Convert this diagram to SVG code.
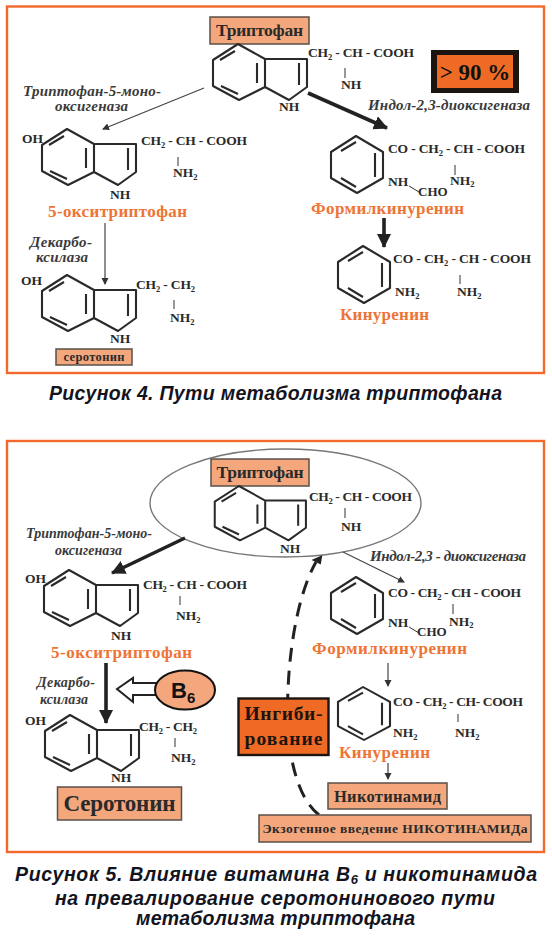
<svg xmlns="http://www.w3.org/2000/svg" xmlns:xlink="http://www.w3.org/1999/xlink" width="552" height="936" viewBox="0 0 552 936">
<style>
text{font-family:"Liberation Serif","Times New Roman",serif;font-weight:bold;fill:#2a2a2a}
.f{font-size:13.5px}
.s{font-size:8.5px}
.e{font-size:15px;font-style:italic;fill:#3a3a3a}
.o{font-size:17px;fill:#ee7435}
.c{font-family:"Liberation Sans",Arial,sans-serif;font-size:19.5px;font-style:italic;fill:#14141e}
.m{text-anchor:middle}
.frame{fill:#fff;stroke:#f2692b;stroke-width:2.4}
.box{fill:#f4a77c;stroke:#5a5048;stroke-width:1.5}
.bond{fill:none;stroke:#2a2a2a;stroke-width:2.1;stroke-linejoin:round}
.bar{stroke:#333;stroke-width:1}
.thin{stroke:#444;stroke-width:1.2;fill:none}
.thick{stroke:#222;stroke-width:3.6;fill:none}
</style>
<defs>
<marker id="ah" markerUnits="userSpaceOnUse" markerWidth="8" markerHeight="8" refX="6" refY="3.5" orient="auto"><path d="M0,0L7,3.5L0,7Z" fill="#333"/></marker>
<marker id="ahb" markerUnits="userSpaceOnUse" markerWidth="16" markerHeight="16" refX="13" refY="7" orient="auto"><path d="M0,0L14,7L0,14Z" fill="#222"/></marker>
<g id="indole" class="bond"><path d="M0,0L-25,16V42L1,56L27,43V15ZM27,15H69V43L51,56L27,43"/><path d="M-18,16L-3,7M-17,42L0,50M19,19V39M61,19V41"/></g>
<g id="benzene" class="bond"><path d="M0,0L-25,16V42L1,57L27,42V16Z"/><path d="M-15,15L0,6M-15,42L0,51M19,17V41"/></g>
</defs>
<rect width="552" height="936" fill="#fff"/>
<rect class="frame" x="7" y="6.500" width="537" height="366.500"/>
<rect class="frame" x="7" y="441" width="537" height="411"/>
<ellipse cx="285.500" cy="503" rx="135.500" ry="54" fill="none" stroke="#777" stroke-width="1.400"/>

<g id="connectors">
<path class="thin" d="M204,88L103,129" marker-end="url(#ah)"/>
<path class="thick" d="M308,93L387,128" marker-end="url(#ahb)"/>
<path class="thick" d="M384,218V247" marker-end="url(#ahb)"/>
<path class="thin" d="M105,223V284" marker-end="url(#ah)"/>
<path class="thick" d="M185,538L112,573" marker-end="url(#ahb)"/>
<path class="thin" d="M343,552L404,582" marker-end="url(#ah)"/>
<path d="M319,815C296,797 285,750 288,690C290,640 300,590 316,562" fill="none" stroke="#222" stroke-width="3" stroke-dasharray="14 9"/>
<path d="M314,560L321,557L320,563Z" fill="#222" stroke="#222" stroke-width="2"/>
<path class="thick" d="M106,663V723" marker-end="url(#ahb)"/>
<path class="thin" d="M388,663V686" marker-end="url(#ah)"/>
<path class="thin" d="M388,763V779" marker-end="url(#ah)"/>
<path d="M156,683H133V678L117,689L133,702V695H156" fill="#fff" stroke="#222" stroke-width="2"/>
</g>

<g id="fig4-tryptophan">
<rect class="box" x="210" y="17" width="99" height="27"/>
<text class="m" x="259.500" y="36" font-size="17.500" textLength="87">Триптофан</text>
<use xlink:href="#indole" x="238" y="44"/>
<text class="f" x="308" y="57" textLength="106">CH<tspan class="s" dy="3">2</tspan><tspan dy="-3"> - CH - COOH</tspan></text>
<line class="bar" x1="345" y1="68" x2="345" y2="78"/>
<text class="f" x="341" y="89">NH</text>
<text class="f" x="279" y="111">NH</text>
</g>
<g id="fig4-percent">
<rect x="431" y="50" width="88" height="43" fill="#1c1410"/>
<rect x="437" y="55" width="76" height="33" fill="#ee6a25"/>
<text class="m" x="475" y="80" font-size="23" style="fill:#111">&gt; 90 %</text>
</g>
<g id="fig4-hydroxytryptophan">
<use xlink:href="#indole" x="67" y="129"/>
<text class="f" x="22" y="143">OH</text>
<text class="f" x="141" y="145" textLength="106">CH<tspan class="s" dy="3">2</tspan><tspan dy="-3"> - CH - COOH</tspan></text>
<line class="bar" x1="178" y1="157" x2="178" y2="166"/>
<text class="f" x="173" y="177">NH<tspan class="s" dy="3">2</tspan></text>
<text class="f" x="110" y="199">NH</text>
<text class="o" x="48" y="217" textLength="139">5-окситриптофан</text>
</g>
<g id="fig4-serotonin">
<use xlink:href="#indole" x="67" y="275"/>
<text class="f" x="21" y="285">OH</text>
<text class="f" x="136" y="289" textLength="59">CH<tspan class="s" dy="3">2</tspan><tspan dy="-3"> - CH</tspan><tspan class="s" dy="3">2</tspan></text>
<line class="bar" x1="174" y1="300" x2="174" y2="309"/>
<text class="f" x="170" y="322">NH<tspan class="s" dy="3">2</tspan></text>
<text class="f" x="110" y="343">NH</text>
<rect class="box" x="56" y="349" width="76" height="16"/>
<text class="m" x="94" y="361" font-size="12.500" textLength="61">серотонин</text>
</g>
<g id="fig4-formylkynurenine">
<use xlink:href="#benzene" x="356" y="136"/>
<text class="f" x="388" y="153" textLength="137">CO - CH<tspan class="s" dy="3">2</tspan><tspan dy="-3"> - CH - COOH</tspan></text>
<line class="bar" x1="455" y1="165" x2="455" y2="175"/>
<text class="f" x="450" y="185">NH<tspan class="s" dy="2">2</tspan></text>
<text class="f" x="388" y="186">NH</text>
<line class="bar" x1="409" y1="186" x2="419" y2="192"/>
<text class="f" x="418" y="196" style="font-size:13px">CHO</text>
<text class="o" x="311" y="214" textLength="153">Формилкинуренин</text>
</g>
<g id="fig4-kynurenine">
<use xlink:href="#benzene" x="363" y="246"/>
<text class="f" x="393" y="263" textLength="138">CO - CH<tspan class="s" dy="3">2</tspan><tspan dy="-3"> - CH - COOH</tspan></text>
<line class="bar" x1="460" y1="275" x2="460" y2="284"/>
<text class="f" x="395" y="296">NH<tspan class="s" dy="3">2</tspan></text>
<text class="f" x="457" y="296">NH<tspan class="s" dy="3">2</tspan></text>
<text class="o" x="340" y="320" textLength="89">Кинуренин</text>
</g>
<g id="fig4-labels">
<text class="e" x="23" y="96" textLength="138">Триптофан-5-моно-</text>
<text class="e" x="55" y="111" textLength="73">оксигеназа</text>
<text class="e" x="368" y="110" textLength="162">Индол-2,3-диоксигеназа</text>
<text class="e" x="30" y="247" textLength="62">Декарбо-</text>
<text class="e" x="36" y="262" textLength="52">ксилаза</text>
<text class="c" x="49" y="400" textLength="453">Рисунок 4. Пути метаболизма триптофана</text>
</g>

<g id="fig5-tryptophan">
<rect class="box" x="211" y="459" width="98" height="27"/>
<text class="m" x="260" y="478" font-size="17.500" textLength="87">Триптофан</text>
<use xlink:href="#indole" transform="translate(239,486) scale(.97)"/>
<text class="f" x="309" y="501" textLength="103">CH<tspan class="s" dy="3">2</tspan><tspan dy="-3"> - CH - COOH</tspan></text>
<line class="bar" x1="345" y1="508" x2="345" y2="518"/>
<text class="f" x="341" y="531">NH</text>
<text class="f" x="280" y="553">NH</text>
</g>
<g id="fig5-hydroxytryptophan">
<use xlink:href="#indole" x="69" y="570"/>
<text class="f" x="25" y="583">OH</text>
<text class="f" x="143" y="589" textLength="104">CH<tspan class="s" dy="3">2</tspan><tspan dy="-3"> - CH - COOH</tspan></text>
<line class="bar" x1="180" y1="596" x2="180" y2="605"/>
<text class="f" x="176" y="620">NH<tspan class="s" dy="3">2</tspan></text>
<text class="f" x="111" y="640">NH</text>
<text class="o" x="51" y="658" textLength="141">5-окситриптофан</text>
</g>
<g id="fig5-serotonin">
<use xlink:href="#indole" x="70" y="715"/>
<text class="f" x="25" y="725">OH</text>
<text class="f" x="139" y="731" textLength="58">CH<tspan class="s" dy="3">2</tspan><tspan dy="-3"> - CH</tspan><tspan class="s" dy="3">2</tspan></text>
<line class="bar" x1="175" y1="738" x2="175" y2="747"/>
<text class="f" x="171" y="762">NH<tspan class="s" dy="3">2</tspan></text>
<text class="f" x="111" y="782">NH</text>
<rect class="box" x="57.500" y="787" width="124" height="33"/>
<text class="m" x="119.500" y="811" font-size="23" textLength="112">Серотонин</text>
</g>
<g id="fig5-b6">
<ellipse cx="185" cy="690" rx="30" ry="19.500" fill="#f4a77c" stroke="#111" stroke-width="2"/>
<text x="171" y="698" font-size="22" style="font-family:'Liberation Sans',Arial,sans-serif;fill:#111">B<tspan font-size="15" dy="5">6</tspan></text>
</g>
<g id="fig5-formylkynurenine">
<use xlink:href="#benzene" x="356" y="577"/>
<text class="f" x="388" y="597" textLength="133">CO - CH<tspan class="s" dy="3">2</tspan><tspan dy="-3"> - CH - COOH</tspan></text>
<line class="bar" x1="453" y1="604" x2="453" y2="614"/>
<text class="f" x="449" y="626">NH<tspan class="s" dy="2">2</tspan></text>
<text class="f" x="388" y="627">NH</text>
<line class="bar" x1="409" y1="627" x2="419" y2="633"/>
<text class="f" x="417" y="636" style="font-size:13px">CHO</text>
<text class="o" x="312" y="654" textLength="155">Формилкинуренин</text>
</g>
<g id="fig5-kynurenine">
<use xlink:href="#benzene" transform="translate(363,687) scale(1,.93)"/>
<text class="f" x="393" y="706" textLength="130">CO - CH<tspan class="s" dy="3">2</tspan><tspan dy="-3"> - CH- COOH</tspan></text>
<line class="bar" x1="458" y1="714" x2="458" y2="722"/>
<text class="f" x="393" y="737">NH<tspan class="s" dy="3">2</tspan></text>
<text class="f" x="455" y="737">NH<tspan class="s" dy="3">2</tspan></text>
<text class="o" x="339" y="758" textLength="91">Кинуренин</text>
</g>
<g id="fig5-inhibition">
<rect x="238.500" y="698.500" width="90" height="56.500" fill="#ee6a25" stroke="#1c1410" stroke-width="2.400"/>
<text class="m" x="283.500" y="720" font-size="19.500" textLength="78" style="fill:#1c1410">Ингиби-</text>
<text class="m" x="283.500" y="745" font-size="19.500" textLength="78" style="fill:#1c1410">рование</text>
</g>
<g id="fig5-nicotinamide">
<rect class="box" x="328" y="783" width="119" height="26"/>
<text class="m" x="387.500" y="802" font-size="16.500" textLength="107">Никотинамид</text>
</g>
<g id="fig5-exogenous">
<rect class="box" x="259" y="815" width="272" height="27"/>
<text class="m" x="395" y="833" font-size="13.500" textLength="265">Экзогенное введение НИКОТИНАМИДа</text>
</g>
<g id="fig5-labels">
<text class="e" style="font-size:14px" x="26" y="538" textLength="126">Триптофан-5-моно-</text>
<text class="e" style="font-size:14px" x="55" y="555" textLength="67">оксигеназа</text>
<text class="e" x="370" y="561" textLength="156">Индол-2,3 - диоксигеназа</text>
<text class="e" style="font-size:14px" x="37" y="687" textLength="58">Декарбо-</text>
<text class="e" style="font-size:14px" x="40" y="704" textLength="48">ксилаза</text>
<text class="c" x="15" y="881" textLength="522">Рисунок 5. Влияние витамина В<tspan font-size="13" dy="3">6</tspan><tspan dy="-3"> и никотинамида</tspan></text>
<text class="c" x="55" y="905" textLength="440">на превалирование серотонинового пути</text>
<text class="c" x="136" y="925" textLength="279">метаболизма триптофана</text>
</g>
</svg>
